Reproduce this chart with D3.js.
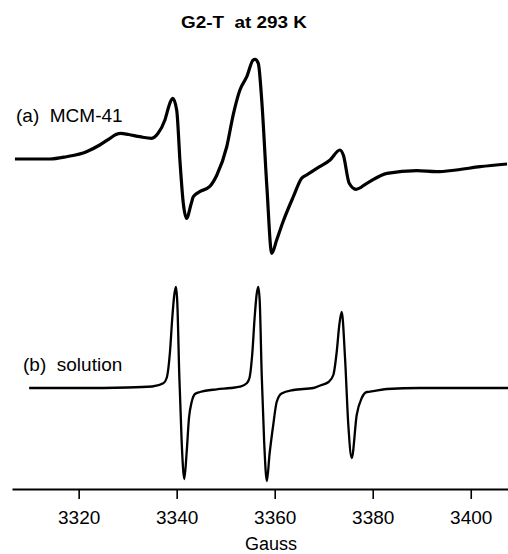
<!DOCTYPE html>
<html>
<head>
<meta charset="utf-8">
<script src="https://cdn.jsdelivr.net/npm/d3@7"></script>
<style>
  body { margin: 0; background: #fff; }
  svg { display: block; font-family: "Liberation Sans", Arial, Helvetica, sans-serif; }
</style>
</head>
<body>
<div id="chart"></div>
<script>
// field positions (Gauss) and signal (arb. units)
const fieldA = [3307.0, 3314.1, 3317.5, 3321.6, 3324.3, 3326.4, 3327.6, 3328.6, 3330.2, 3332.5, 3334.9,
  3336.2, 3337.6, 3338.6, 3339.2, 3340.0, 3340.7, 3341.35, 3342.0, 3343.0, 3343.4,
  3344.7, 3346.7, 3348.2, 3350.2, 3351.6, 3352.9, 3354.3, 3355.6, 3356.0, 3356.65,
  3357.35, 3358.4, 3359.4, 3360.4, 3361.7, 3363.8, 3365.5, 3366.5, 3368.6, 3371.3,
  3373.3, 3374.0, 3375.2, 3376.6, 3378.8, 3382.9, 3389.0, 3393.0, 3397.0, 3401.9, 3407.4]
const signalA = [0, 0, 2.3, 7.3, 14, 20.7, 24.5, 25.7, 24.5, 22.3, 20.7,
  25.7, 39, 55.7, 60.7, 49, -4.3, -44.3, -59.3, -44, -37.7,
  -32.7, -27.7, -16, 12, 45.7, 69, 82.3, 99, 99.7, 95.7,
  59, -27.7, -94.3, -81, -62.7, -37.7, -19.3, -16, -9.3, -1,
  9, 4, -24.3, -30.3, -24.3, -14.3, -11.7, -12.7, -11, -7.7, -5]

const fieldB = [3309.9, 3320, 3330, 3335, 3337.27, 3337.96, 3338.63, 3339.1, 3339.51, 3339.86,
  3340.12, 3340.53, 3341.02, 3341.55, 3342.04, 3342.51, 3343.06, 3343.73, 3344.76, 3348.16,
  3351.0, 3352.92, 3354.29, 3354.85, 3355.45, 3355.9, 3356.3, 3356.65, 3356.95, 3357.35,
  3357.85, 3358.4, 3358.95, 3359.7, 3360.4, 3361.4, 3363.8, 3367.9, 3369.3, 3371.0,
  3371.96, 3372.65, 3373.18, 3373.67, 3374.35, 3375.02, 3375.71, 3376.73, 3377.76, 3378.78,
  3379.45, 3382.86, 3389.65, 3407.6]
const signalB = [0, 0, 0.5, 1.5, 4.7, 10, 36, 70, 93, 101,
  86, 13, -54, -91, -64, -30, -14, -6, -4, -1.3,
  0, 1.3, 4.7, 10, 36, 70, 93, 101, 86, 13,
  -54, -93, -66, -37, -14, -5.5, -2, 0, 2.5, 6,
  13, 36, 63, 76, 30, -37, -70, -27, -10, -4,
  -3.7, -1, 0, 0]

const offsetA = 229   // vertical offset of spectrum (a)
const tickValues = [3320, 3340, 3360, 3380, 3400]
const title = 'G2-T  at 293 K'
const labelA = '(a)  MCM-41'
const labelB = '(b)  solution'
const xLabel = 'Gauss'

const width = 508
const height = 554
const axisY = 489

const svg = d3.select('#chart')
  .append('svg')
  .attr('width', width)
  .attr('height', height)

const x = d3.scaleLinear().domain([3306.4, 3407.6]).range([12, 508])
const y = d3.scaleLinear().domain([0, 100]).range([388, 288])

const line = d3.line()
  .x((d) => x(d[0]))
  .y((d) => y(d[1]))
  .curve(d3.curveMonotoneX)

const dataA = fieldA.map((f, i) => [f, signalA[i] + offsetA])
const dataB = fieldB.map((f, i) => [f, signalB[i]])

svg.append('path')
  .datum(dataA)
  .attr('d', line)
  .attr('fill', 'none')
  .attr('stroke', '#000')
  .attr('stroke-width', 3.2)
  .attr('stroke-linejoin', 'round')

svg.append('path')
  .datum(dataB)
  .attr('d', line)
  .attr('fill', 'none')
  .attr('stroke', '#000')
  .attr('stroke-width', 2.3)
  .attr('stroke-linejoin', 'round')

const axis = svg.append('g')
  .attr('transform', `translate(0, ${axisY})`)
  .call(d3.axisBottom(x).tickValues(tickValues).tickSize(10).tickSizeOuter(0).tickFormat(d3.format('d')))

axis.select('.domain').attr('stroke', '#000').attr('stroke-width', 2)
axis.selectAll('.tick line').attr('stroke', '#000').attr('stroke-width', 1.6)
axis.selectAll('.tick text')
  .attr('y', 34.5)
  .attr('dy', null)
  .attr('fill', '#000')
  .style('font-size', '19px')
  .style('font-family', '"Liberation Sans", Arial, sans-serif')

svg.append('text')
  .text(xLabel)
  .attr('x', 271)
  .attr('y', 550)
  .attr('text-anchor', 'middle')
  .style('font-size', '18px')

svg.append('text')
  .text(title)
  .attr('x', 244)
  .attr('y', 28.3)
  .attr('text-anchor', 'middle')
  .attr('textLength', 126)
  .attr('lengthAdjust', 'spacingAndGlyphs')
  .style('font-size', '16px')
  .style('font-weight', 'bold')
  .style('white-space', 'pre')

svg.append('text')
  .text(labelA)
  .attr('x', 16)
  .attr('y', 121.5)
  .style('font-size', '19px')
  .style('white-space', 'pre')

svg.append('text')
  .text(labelB)
  .attr('x', 23)
  .attr('y', 370.5)
  .style('font-size', '19px')
  .style('white-space', 'pre')
</script>
</body>
</html>
